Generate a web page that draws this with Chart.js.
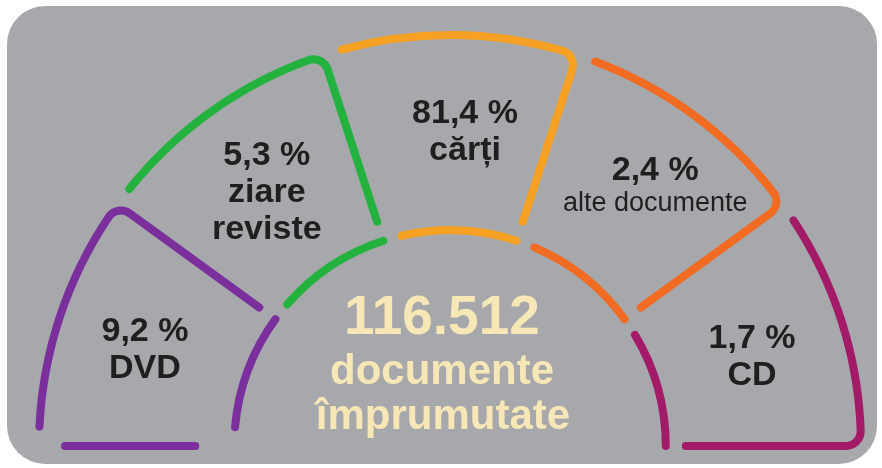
<!DOCTYPE html>
<html>
<head>
<meta charset="utf-8">
<script src="https://cdn.jsdelivr.net/npm/chart.js@4.4.0/dist/chart.umd.min.js"></script>
<style>
  html, body { margin: 0; padding: 0; background: #fff; }
  canvas { display: block; }
</style>
</head>
<body>
<canvas id="dial" width="882" height="468"></canvas>
<script>
// categorii (un element tip array = text pe mai multe randuri)
const categories = ['DVD', ['ziare', 'reviste'], 'cărți', 'alte documente', 'CD'];
// procente din totalul imprumuturilor
const shares = [9.2, 5.3, 81.4, 2.4, 1.7];
// fiecare categorie primeste aceeasi felie din cadran, procentul e scris in ea
const sectorSpan = [1, 1, 1, 1, 1];
const totalBorrowed = '116.512';
const totalCaption = ['documente', 'împrumutate'];

const colors = ['#7b2f9d', '#23b23d', '#f6a124', '#f26b23', '#a31b68'];
const FONT = "'Liberation Sans', Arial, sans-serif";
const INK = '#1f1f1f';
const CREAM = '#f7e7b6';

// mutari mici ale etichetelor fata de centrul feliei
const nudge = [[-7, 1], [1, 0], [15, 0], [21, -5], [4, 8]];

function fmtShare(v) { return v.toFixed(1).replace('.', ',') + ' %'; }

function roundRect(ctx, x, y, w, h, r) {
  ctx.beginPath();
  ctx.moveTo(x + r, y);
  ctx.arcTo(x + w, y, x + w, y + h, r);
  ctx.arcTo(x + w, y + h, x, y + h, r);
  ctx.arcTo(x, y + h, x, y, r);
  ctx.arcTo(x, y, x + w, y, r);
  ctx.closePath();
}

// fundal gri rotunjit
const panel = {
  id: 'panel',
  beforeDraw(chart) {
    const ctx = chart.ctx;
    ctx.save();
    ctx.fillStyle = '#a6a8ab';
    roundRect(ctx, 7, 6, 870, 458, 38);
    ctx.fill();
    ctx.restore();
  }
};

// contururile feliilor: arc exterior + latura de inchidere, arc interior separat
const dialOutline = {
  id: 'dialOutline',
  afterDatasetsDraw(chart) {
    const ctx = chart.ctx;
    const arcs = chart.getDatasetMeta(0).data;
    const gap = 2.7 * Math.PI / 180;
    const innerGap = 5 * Math.PI / 180;
    const corner = 15;
    ctx.save();
    ctx.lineWidth = 8;
    ctx.lineCap = 'round';
    ctx.lineJoin = 'round';
    arcs.forEach((arc, i) => {
      const p = arc.getProps(['x', 'y', 'startAngle', 'endAngle', 'innerRadius', 'outerRadius'], true);
      const pt = (r, a) => [p.x + r * Math.cos(a), p.y + r * Math.sin(a)];
      ctx.strokeStyle = colors[i];

      const c = pt(p.outerRadius, p.endAngle);
      const e = pt(p.innerRadius + 20, p.endAngle);
      ctx.beginPath();
      ctx.arc(p.x, p.y, p.outerRadius, p.startAngle + gap, p.endAngle - corner / p.outerRadius);
      ctx.arcTo(c[0], c[1], e[0], e[1], corner);
      ctx.lineTo(e[0], e[1]);
      ctx.stroke();

      ctx.beginPath();
      ctx.arc(p.x, p.y, p.innerRadius, p.startAngle + innerGap, p.endAngle);
      ctx.stroke();

      // prima felie are si latura de jos
      if (i === 0) {
        const a = pt(p.innerRadius + 39, p.startAngle);
        const b = pt(p.outerRadius - 26, p.startAngle);
        ctx.beginPath();
        ctx.moveTo(a[0], a[1]);
        ctx.lineTo(b[0], b[1]);
        ctx.stroke();
      }
    });
    ctx.restore();
  }
};

// procent + nume in fiecare felie, totalul in mijloc
const dialLabels = {
  id: 'dialLabels',
  afterDraw(chart) {
    const ctx = chart.ctx;
    const arcs = chart.getDatasetMeta(0).data;
    ctx.save();
    ctx.textAlign = 'center';
    ctx.textBaseline = 'middle';
    ctx.fillStyle = INK;
    arcs.forEach((arc, i) => {
      const cp = arc.getCenterPoint(true);
      const names = [].concat(chart.data.labels[i]);
      const lines = [{ t: fmtShare(shares[i]), f: 'bold 34px ' + FONT, h: 38 }];
      names.forEach(n => {
        const small = n.length > 10;
        lines.push({ t: n, f: small ? '27px ' + FONT : 'bold 34px ' + FONT, h: small ? 33 : 37 });
      });
      const total = lines.slice(1).reduce((s, l) => s + l.h, 0);
      let y = cp.y + nudge[i][1] - total / 2;
      lines.forEach((l, k) => {
        if (k > 0) y += l.h;
        ctx.font = l.f;
        ctx.fillText(l.t, cp.x + nudge[i][0], y);
      });
    });

    const o = arcs[0].getProps(['x', 'y'], true);
    ctx.fillStyle = CREAM;
    ctx.textBaseline = 'alphabetic';
    ctx.font = 'bold 55px ' + FONT;
    ctx.fillText(totalBorrowed, o.x - 8, o.y - 112);
    ctx.font = 'bold 42px ' + FONT;
    ctx.fillText(totalCaption[0], o.x - 8, o.y - 62);
    ctx.fillText(totalCaption[1], o.x - 7, o.y - 17);
    ctx.restore();
  }
};

new Chart(document.getElementById('dial'), {
  type: 'doughnut',
  data: {
    labels: categories,
    datasets: [{
      data: sectorSpan,
      backgroundColor: 'rgba(0,0,0,0)',
      borderWidth: 0,
      hoverBorderWidth: 0
    }]
  },
  options: {
    responsive: false,
    animation: false,
    rotation: -90,
    circumference: 180,
    cutout: '52.5%',
    layout: { padding: { left: 39, right: 21, top: 35, bottom: 22 } },
    plugins: {
      legend: { display: false },
      tooltip: { enabled: false }
    },
    events: []
  },
  plugins: [panel, dialOutline, dialLabels]
});
</script>
</body>
</html>
